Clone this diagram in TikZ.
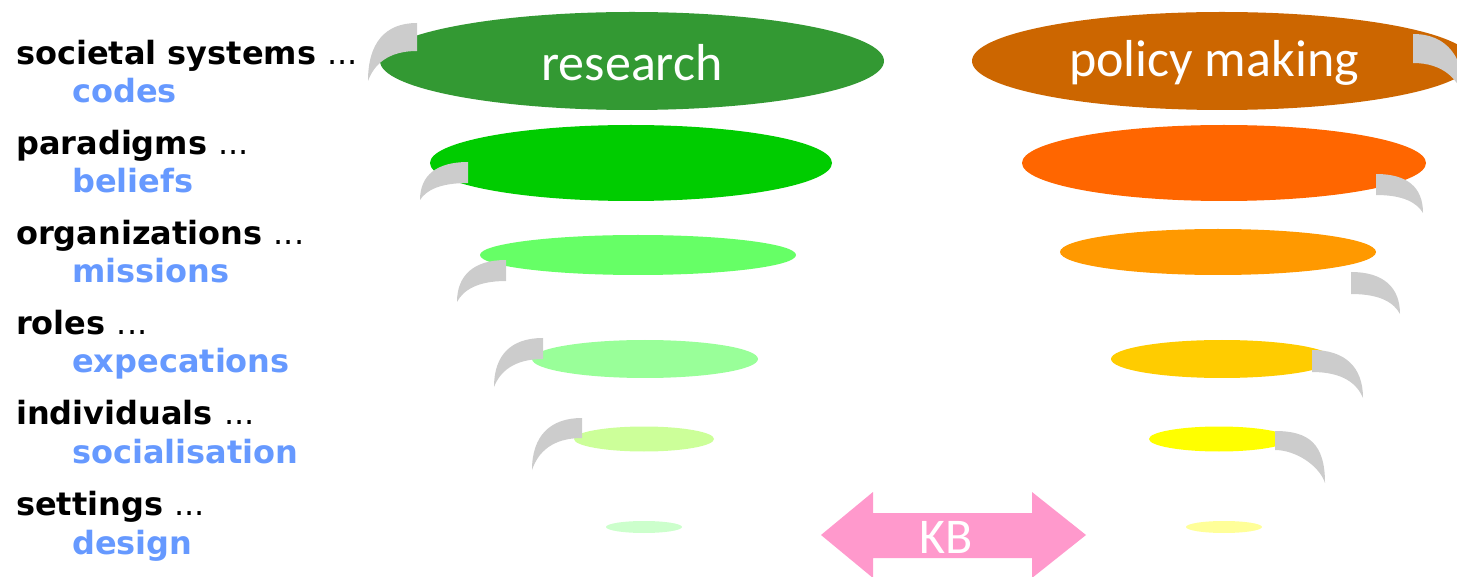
\documentclass[tikz,border=0pt]{standalone}
\usepackage{fontspec}
\usetikzlibrary{shapes.geometric}
\newfontfamily\lblfont{DejaVu Sans}
\newfontfamily\calfont{Carlito}
\newcommand\thindots{\mdseries...}
\definecolor{blu}{HTML}{6699FF}
\definecolor{gr1}{HTML}{339933}
\definecolor{gr2}{HTML}{00CC00}
\definecolor{gr3}{HTML}{66FF66}
\definecolor{gr4}{HTML}{99FF99}
\definecolor{gr5}{HTML}{CCFF99}
\definecolor{gr6}{HTML}{CCFFCC}
\definecolor{or1}{HTML}{CC6600}
\definecolor{or2}{HTML}{FF6600}
\definecolor{or3}{HTML}{FF9900}
\definecolor{or4}{HTML}{FFCC00}
\definecolor{or5}{HTML}{FFFF00}
\definecolor{or6}{HTML}{FFFF99}
\definecolor{gry}{HTML}{CCCCCC}
\definecolor{pnk}{HTML}{FF99CC}
\tikzset{
  disc/.style={ellipse, inner sep=0pt, draw=none},
  swirl/.style={fill=gry, draw=none},
  lvl/.style={anchor=base west, inner sep=0pt, font=\lblfont\bfseries\fontsize{32}{38}\selectfont, text=black},
  sub/.style={anchor=base west, inner sep=0pt, font=\lblfont\bfseries\fontsize{32}{38}\selectfont, text=blu},
  big/.style={text=white, inner sep=0pt, font=\calfont\fontsize{52}{60}\selectfont}
}
\begin{document}
\begin{tikzpicture}[x=1pt,y=-1pt]
\useasboundingbox (0,0) rectangle (1457,577);
\clip (0,0) rectangle (1457,577);
% left ellipses
\node[disc, fill=gr1, minimum width=504pt, minimum height=98pt] (r1) at (632,61) {};
\node[disc, fill=gr2, minimum width=402pt, minimum height=76pt] (r2) at (631,163) {};
\node[disc, fill=gr3, minimum width=316pt, minimum height=40pt] (r3) at (638,255) {};
\node[disc, fill=gr4, minimum width=226pt, minimum height=38pt] (r4) at (645,359) {};
\node[disc, fill=gr5, minimum width=140pt, minimum height=25pt] (r5) at (644,439) {};
\node[disc, fill=gr6, minimum width=76pt, minimum height=12pt] (r6) at (644,527) {};
% right ellipses
\node[disc, fill=or1, minimum width=500pt, minimum height=98pt] (p1) at (1222,61) {};
\node[disc, fill=or2, minimum width=404pt, minimum height=76pt] (p2) at (1224,163) {};
\node[disc, fill=or3, minimum width=316pt, minimum height=46pt] (p3) at (1218,252) {};
\node[disc, fill=or4, minimum width=222pt, minimum height=38pt] (p4) at (1222,359) {};
\node[disc, fill=or5, minimum width=140pt, minimum height=25pt] (p5) at (1219,439) {};
\node[disc, fill=or6, minimum width=76pt, minimum height=12pt] (p6) at (1224,527) {};
% left gray swirls
\fill[swirl] (417,23) .. controls (385,23) and (368,43) .. (368,81) .. controls (374,64.5) and (388,51) .. (417,51) -- cycle;
\fill[swirl] (468,162) .. controls (437,162) and (420,175) .. (420,200) .. controls (426,190.6) and (439,183) .. (468,183) -- cycle;
\fill[swirl] (506,260) .. controls (474,260) and (457,275) .. (457,302) .. controls (463,290.5) and (477,281) .. (506,281) -- cycle;
\fill[swirl] (543,338) .. controls (511,338) and (494,355) .. (494,387) .. controls (500,371.6) and (514,359) .. (543,359) -- cycle;
\fill[swirl] (582,418) .. controls (550,418) and (532,436) .. (532,470) .. controls (538,452.4) and (552,438) .. (582,438) -- cycle;
% right gray swirls
\fill[swirl] (1413,34) .. controls (1447,34) and (1465,57) .. (1465,100) .. controls (1459,80) and (1444,63) .. (1413,63) -- cycle;
\fill[swirl] (1376,174) .. controls (1407,174) and (1423,187) .. (1423,213) .. controls (1417,203) and (1404,195) .. (1376,195) -- cycle;
\fill[swirl] (1351,272) .. controls (1383,272) and (1400,287) .. (1400,314) .. controls (1394,303) and (1381,294) .. (1351,294) -- cycle;
\fill[swirl] (1312,350) .. controls (1345,350) and (1363,367) .. (1363,398) .. controls (1357,383.7) and (1343,372) .. (1312,372) -- cycle;
\fill[swirl] (1275,431) .. controls (1308,431) and (1325,443) .. (1325,483) .. controls (1319,465) and (1295,450) .. (1275,450) -- cycle;
% titles
\node[big] (tres) at (632,63) {research};
\node[big] (tpol) at (1214,63) {policy making};
% KB arrow
\fill[pnk] (821,535) -- (873,492) -- (873,513) -- (1032,513) -- (1032,492) -- (1086,535) -- (1032,578) -- (1032,558) -- (873,558) -- (873,578) -- cycle;
\node[big, font=\calfont\fontsize{50}{58}\selectfont] (kb) at (946,537) {KB};
% labels
\node[lvl] (l1) at (16,65) {societal systems \thindots};
\node[sub] (s1) at (72,103) {codes};
\node[lvl] (l2) at (16,155) {paradigms \thindots};
\node[sub] (s2) at (72,193) {beliefs};
\node[lvl] (l3) at (16,245) {organizations \thindots};
\node[sub] (s3) at (72,283) {missions};
\node[lvl] (l4) at (16,335) {roles \thindots};
\node[sub] (s4) at (72,373) {expecations};
\node[lvl] (l5) at (16,424) {individuals \thindots};
\node[sub] (s5) at (72,463) {socialisation};
\node[lvl] (l6) at (16,515) {settings \thindots};
\node[sub] (s6) at (72,554) {design};
\end{tikzpicture}
\end{document}
